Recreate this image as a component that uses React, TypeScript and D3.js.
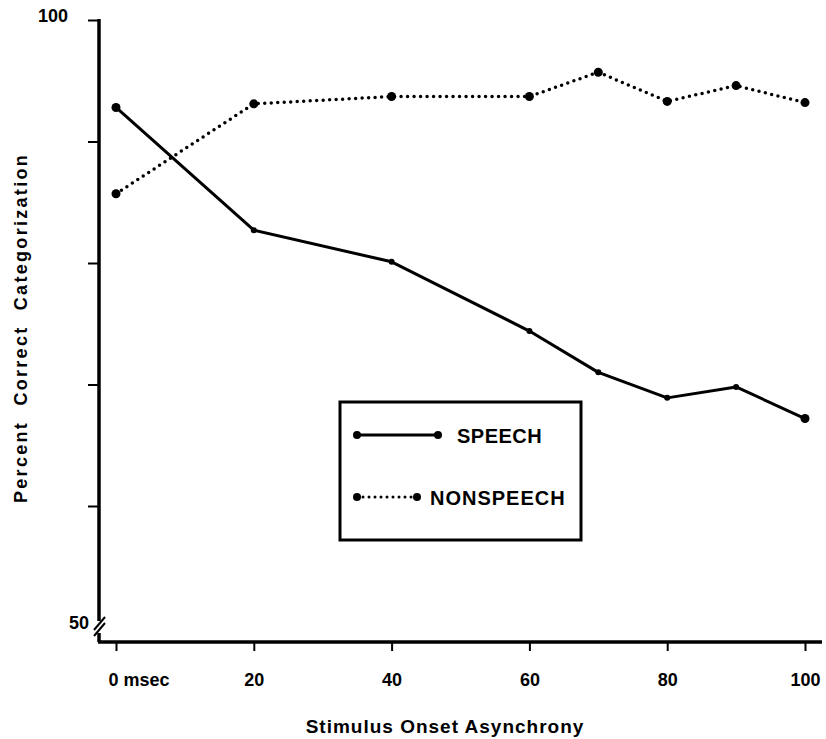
import React, { useRef, useEffect } from 'react';
import * as d3 from 'd3';

// stimulus onset asynchrony (msec)
const soa = [0, 20, 40, 60, 70, 80, 90, 100];
const speech = [92.8, 82.7, 80.1, 74.4, 71.0, 68.9, 69.8, 67.2];
const nonspeech = [85.7, 93.1, 93.7, 93.7, 95.7, 93.3, 94.6, 93.2];
const xTicks = [0, 20, 40, 60, 80, 100];
const yTicks = [60, 70, 80, 90, 100];

const FONT = '"Liberation Sans", Arial, sans-serif';

function App() {
  const svgRef = useRef<SVGSVGElement>(null);

  useEffect(() => {
    const width = 826;
    const height = 739;
    const axisX = 99;
    const axisY = 642;

    const svg = d3.select(svgRef.current)
      .attr('width', width)
      .attr('height', height);
    svg.selectAll('*').remove();

    const x = d3.scaleLinear().domain([0, 100]).range([116, 805]);
    const y = d3.scaleLinear().domain([50, 100]).range([627.5, 20]);

    // x axis
    const xAxis = d3.axisBottom(x)
      .tickValues(xTicks)
      .tickSize(9)
      .tickPadding(22)
      .tickFormat(d => (d === 0 ? '0 msec' : String(d)));
    const gx = svg.append('g')
      .attr('transform', `translate(0,${axisY})`)
      .call(xAxis);
    gx.select('.domain').remove();
    gx.selectAll('.tick line').attr('stroke', '#000').attr('stroke-width', 2);
    gx.selectAll('.tick text')
      .attr('fill', '#000')
      .style('font-family', FONT)
      .style('font-weight', 'bold')
      .style('font-size', '18px')
      .attr('text-anchor', (d: any) => (d === 0 ? 'start' : 'middle'))
      .attr('dx', (d: any) => (d === 0 ? -8 : 0));
    svg.append('line')
      .attr('x1', axisX - 1).attr('x2', 822)
      .attr('y1', axisY).attr('y2', axisY)
      .attr('stroke', '#000').attr('stroke-width', 3.5);

    // y axis
    const yAxis = d3.axisLeft(y)
      .tickValues(yTicks)
      .tickSize(11)
      .tickPadding(20)
      .tickFormat(d => (d === 100 ? '100' : ''));
    const gy = svg.append('g')
      .attr('transform', `translate(${axisX},0)`)
      .call(yAxis);
    gy.select('.domain').remove();
    gy.selectAll('.tick line').attr('stroke', '#000').attr('stroke-width', 2);
    gy.selectAll('.tick text')
      .attr('fill', '#000')
      .attr('dy', '0.1em')
      .style('font-family', FONT)
      .style('font-weight', 'bold')
      .style('font-size', '18px');

    // axis line with a break near 50
    svg.append('line')
      .attr('x1', axisX).attr('x2', axisX)
      .attr('y1', y(100) - 1).attr('y2', 621)
      .attr('stroke', '#000').attr('stroke-width', 3.5);
    svg.append('line')
      .attr('x1', axisX).attr('x2', axisX)
      .attr('y1', 633).attr('y2', axisY)
      .attr('stroke', '#000').attr('stroke-width', 3.5);
    [0, 6].forEach(off => {
      svg.append('line')
        .attr('x1', axisX - 5).attr('y1', 630 + off)
        .attr('x2', axisX + 6).attr('y2', 617 + off)
        .attr('stroke', '#000').attr('stroke-width', 2);
    });
    svg.append('text')
      .attr('x', 89).attr('y', y(50) - 3)
      .attr('text-anchor', 'end')
      .attr('dominant-baseline', 'middle')
      .style('font-family', FONT)
      .style('font-weight', 'bold')
      .style('font-size', '18px')
      .text('50');

    // axis titles
    svg.append('text')
      .attr('x', 445).attr('y', 733)
      .attr('text-anchor', 'middle')
      .style('font-family', FONT)
      .style('font-weight', 'bold')
      .style('font-size', '19px')
      .style('letter-spacing', '1px')
      .text('Stimulus Onset Asynchrony');
    svg.append('text')
      .attr('transform', 'translate(27,328) rotate(-90)')
      .attr('text-anchor', 'middle')
      .style('font-family', FONT)
      .style('font-weight', 'bold')
      .style('font-size', '18px')
      .style('letter-spacing', '2.3px')
      .style('word-spacing', '8px')
      .text('Percent Correct Categorization');

    const line = d3.line<number>()
      .x((_, i) => x(soa[i]))
      .y(d => y(d));

    // speech: solid
    svg.append('path')
      .datum(speech)
      .attr('fill', 'none')
      .attr('stroke', '#000')
      .attr('stroke-width', 3)
      .attr('stroke-linejoin', 'round')
      .attr('d', line);
    svg.append('g').selectAll('circle')
      .data(speech)
      .enter()
      .append('circle')
      .attr('cx', (_, i) => x(soa[i]))
      .attr('cy', d => y(d))
      .attr('r', (_, i) => (i === 0 || i === soa.length - 1 ? 4.5 : 3))
      .attr('fill', '#000');

    // nonspeech: dotted
    svg.append('path')
      .datum(nonspeech)
      .attr('fill', 'none')
      .attr('stroke', '#000')
      .attr('stroke-width', 3.5)
      .attr('stroke-linecap', 'round')
      .attr('stroke-dasharray', '0 6.5')
      .attr('d', line);
    svg.append('g').selectAll('circle')
      .data(nonspeech)
      .enter()
      .append('circle')
      .attr('cx', (_, i) => x(soa[i]))
      .attr('cy', d => y(d))
      .attr('r', 4.5)
      .attr('fill', '#000');

    // legend
    const lg = svg.append('g');
    lg.append('rect')
      .attr('x', 340).attr('y', 402)
      .attr('width', 241).attr('height', 138)
      .attr('fill', '#fff')
      .attr('stroke', '#000').attr('stroke-width', 3);
    lg.append('line')
      .attr('x1', 357).attr('x2', 438).attr('y1', 435).attr('y2', 435)
      .attr('stroke', '#000').attr('stroke-width', 3);
    lg.append('line')
      .attr('x1', 357).attr('x2', 417).attr('y1', 497).attr('y2', 497)
      .attr('stroke', '#000').attr('stroke-width', 3)
      .attr('stroke-linecap', 'round')
      .attr('stroke-dasharray', '0 6');
    [[357, 435], [438, 435], [357, 497], [417, 497]].forEach(([cx, cy]) => {
      lg.append('circle').attr('cx', cx).attr('cy', cy).attr('r', 4).attr('fill', '#000');
    });
    lg.append('text')
      .attr('x', 457).attr('y', 443)
      .style('font-family', FONT)
      .style('font-weight', 'bold')
      .style('font-size', '20px')
      .style('letter-spacing', '0.5px')
      .text('SPEECH');
    lg.append('text')
      .attr('x', 430).attr('y', 505)
      .style('font-family', FONT)
      .style('font-weight', 'bold')
      .style('font-size', '20px')
      .style('letter-spacing', '1px')
      .text('NONSPEECH');
  }, []);

  return (
    <svg ref={svgRef} style={{ position: 'absolute', left: 0, top: 0, background: '#fff' }}></svg>
  );
}

export default App;
